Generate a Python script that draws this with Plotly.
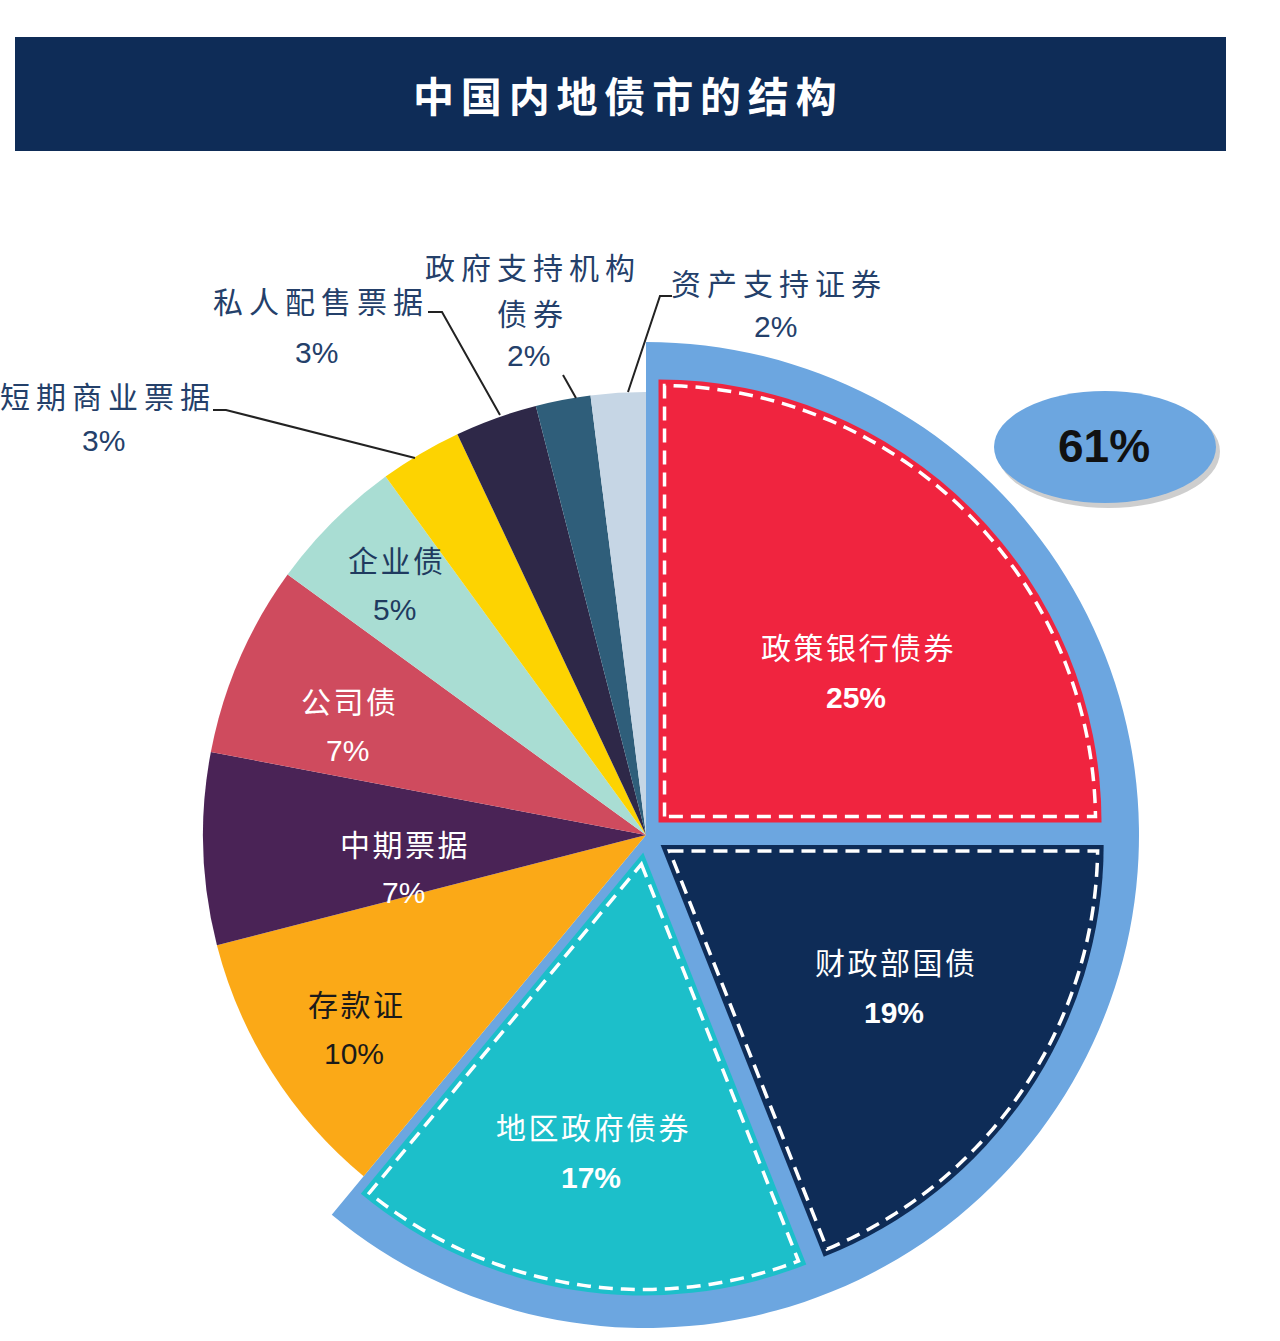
import numpy as np
import plotly.graph_objects as go

W, H = 1280, 1341

# ---------------- data ----------------
title_text = "中国内地债市的结构"
categories = ["政策银行债券", "财政部国债", "地区政府债券", "存款证", "中期票据",
              "公司债", "企业债", "短期商业票据", "私人配售票据", "政府支持机构债券", "资产支持证券"]
values = [25, 19, 17, 10, 7, 7, 5, 3, 3, 2, 2]
highlight_count = 3  # first three slices are pulled out and grouped

# ---------------- styles ----------------
colors = ["#F0243F", "#0E2C57", "#1CBFCA", "#FBA917", "#4A2356", "#CF4B5E",
          "#A9DDD3", "#FDD301", "#2E2848", "#2F5E7A", "#C6D6E5"]
RING = "#6CA6E0"
NAVY = "#0E2C57"
LABEL_NAVY = "#24406A"
inside_text_colors = ["white", "white", "white", "#1A1A1A", "white", "white", "#1F3A5F"]
FONT = "Liberation Sans, Noto Sans CJK SC"

cx, cy = 646, 835      # pie centre, px
r_main = 443           # radius of main pie, px
pull_frac = 0.04
r_ring = 493


def px(x):
    return x / W


def py(y):
    return 1 - y / H


def dom(r_eff):
    return dict(x=[px(cx - r_eff), px(cx + r_eff)], y=[py(cy + r_eff), py(cy - r_eff)])


def ann(text, x, y, size, color, family=FONT):
    return dict(text=text, x=px(x), y=py(y), xref="paper", yref="paper", showarrow=False,
                xanchor="center", yanchor="middle", font=dict(family=family, size=size, color=color))


pulls = [pull_frac if i < highlight_count else 0 for i in range(len(values))]
ring_vals = [sum(values[:highlight_count]), sum(values[highlight_count:])]

fig = go.Figure()

# ring (background sector behind highlighted slices)
fig.add_trace(go.Pie(
    values=ring_vals, labels=["合计", "其他"], sort=False, direction="clockwise", rotation=0,
    marker=dict(colors=[RING, "rgba(0,0,0,0)"], line=dict(width=0)),
    textinfo="none", hoverinfo="skip", domain=dom(r_ring), showlegend=False,
))

# main pie
fig.add_trace(go.Pie(
    values=values, labels=categories, sort=False, direction="clockwise", rotation=0,
    pull=pulls,
    marker=dict(colors=colors, line=dict(width=0)),
    textinfo="none", hoverinfo="label+percent",
    domain=dom(r_main * (1 + pull_frac)), showlegend=False,
))

shapes = []
annotations = []

# title banner
shapes.append(dict(type="rect", xref="paper", yref="paper", x0=px(15), x1=px(1226),
                   y0=py(151), y1=py(37), fillcolor=NAVY, line=dict(width=0), layer="below"))
annotations.append(ann("<b>" + "\u2006".join(title_text) + "</b>", 625, 94, 41, "white", "Noto Sans CJK SC"))


# dashed white outlines on highlighted slices
def u(t):
    return np.array([np.sin(t), -np.cos(t)])


total = float(sum(values))
theta = 2 * np.pi * np.concatenate([[0], np.cumsum(values)]) / total
d = pull_frac * r_main
ins = 6.0
for i in range(highlight_count):
    t0, t1 = theta[i], theta[i + 1]
    mid = (t0 + t1) / 2
    c = np.array([cx, cy]) + d * u(mid)
    half = (t1 - t0) / 2
    apex = c + u(mid) * ins / np.sin(half)
    rr = r_main - ins
    dl = np.arcsin(ins / rr)
    ts = np.linspace(t0 + dl, t1 - dl, 80)
    pts = [apex] + [c + rr * u(t) for t in ts]
    path = "M " + " L ".join(f"{px(p[0]):.5f},{py(p[1]):.5f}" for p in pts) + " Z"
    shapes.append(dict(type="path", path=path, xref="paper", yref="paper",
                       line=dict(color="white", width=3.5, dash="14px,8px"),
                       fillcolor="rgba(0,0,0,0)", layer="above"))

# inside labels (name, percent) positions in px
inside_pos = [(857, 648, 697), (895, 963, 1012), (592, 1128, 1177), (355, 1005, 1053),
              (404, 845, 892), (348, 702, 750), (395, 561, 609)]
for i, (x, y1, y2) in enumerate(inside_pos):
    col = inside_text_colors[i]
    annotations.append(ann("\u200a".join(categories[i]), x, y1, 30, col))
    pct = f"{values[i]}%"
    if i < highlight_count:
        pct = f"<b>{pct}</b>"
    annotations.append(ann(pct, x - 1, y2, 30, col))

# outside labels
outside_lines = {
    7: ([categories[7]], [(105, 398)], (103, 440)),
    8: ([categories[8]], [(318, 303)], (316, 352)),
    9: (["政府支持机构", "债券"], [(530, 268), (530, 314)], (528, 355)),
    10: ([categories[10]], [(776, 284)], (775, 326)),
}
for i, (lines, poss, ppos) in outside_lines.items():
    for t, (x, y) in zip(lines, poss):
        annotations.append(ann("\u2009".join(t), x, y, 30, LABEL_NAVY))
    annotations.append(ann(f"{values[i]}%", ppos[0], ppos[1], 30, LABEL_NAVY))

leaders = [
    [(213, 410), (226, 410), (415, 458)],
    [(428, 312), (442, 312), (500, 415)],
    [(563, 375), (576, 398)],
    [(672, 296), (660, 296), (628, 392)],
]
for pts in leaders:
    path = "M " + " L ".join(f"{px(a):.5f},{py(b):.5f}" for a, b in pts)
    shapes.append(dict(type="path", path=path, xref="paper", yref="paper",
                       line=dict(color="#222222", width=2), layer="above"))

# 61% ellipse with soft shadow
shapes.append(dict(type="circle", xref="paper", yref="paper", x0=px(997), x1=px(1220),
                   y0=py(508), y1=py(395), fillcolor="rgba(60,60,60,0.25)", line=dict(width=0), layer="above"))
shapes.append(dict(type="circle", xref="paper", yref="paper", x0=px(994), x1=px(1216),
                   y0=py(503), y1=py(391), fillcolor=RING, line=dict(width=0), layer="above"))
annotations.append(ann(f"<b>{ring_vals[0]}%</b>", 1104, 446, 46, "#111111", "Liberation Sans"))

fig.update_layout(
    width=W, height=H, margin=dict(l=0, r=0, t=0, b=0),
    paper_bgcolor="white", plot_bgcolor="white",
    shapes=shapes, annotations=annotations,
)

fig.write_html("out.html")
